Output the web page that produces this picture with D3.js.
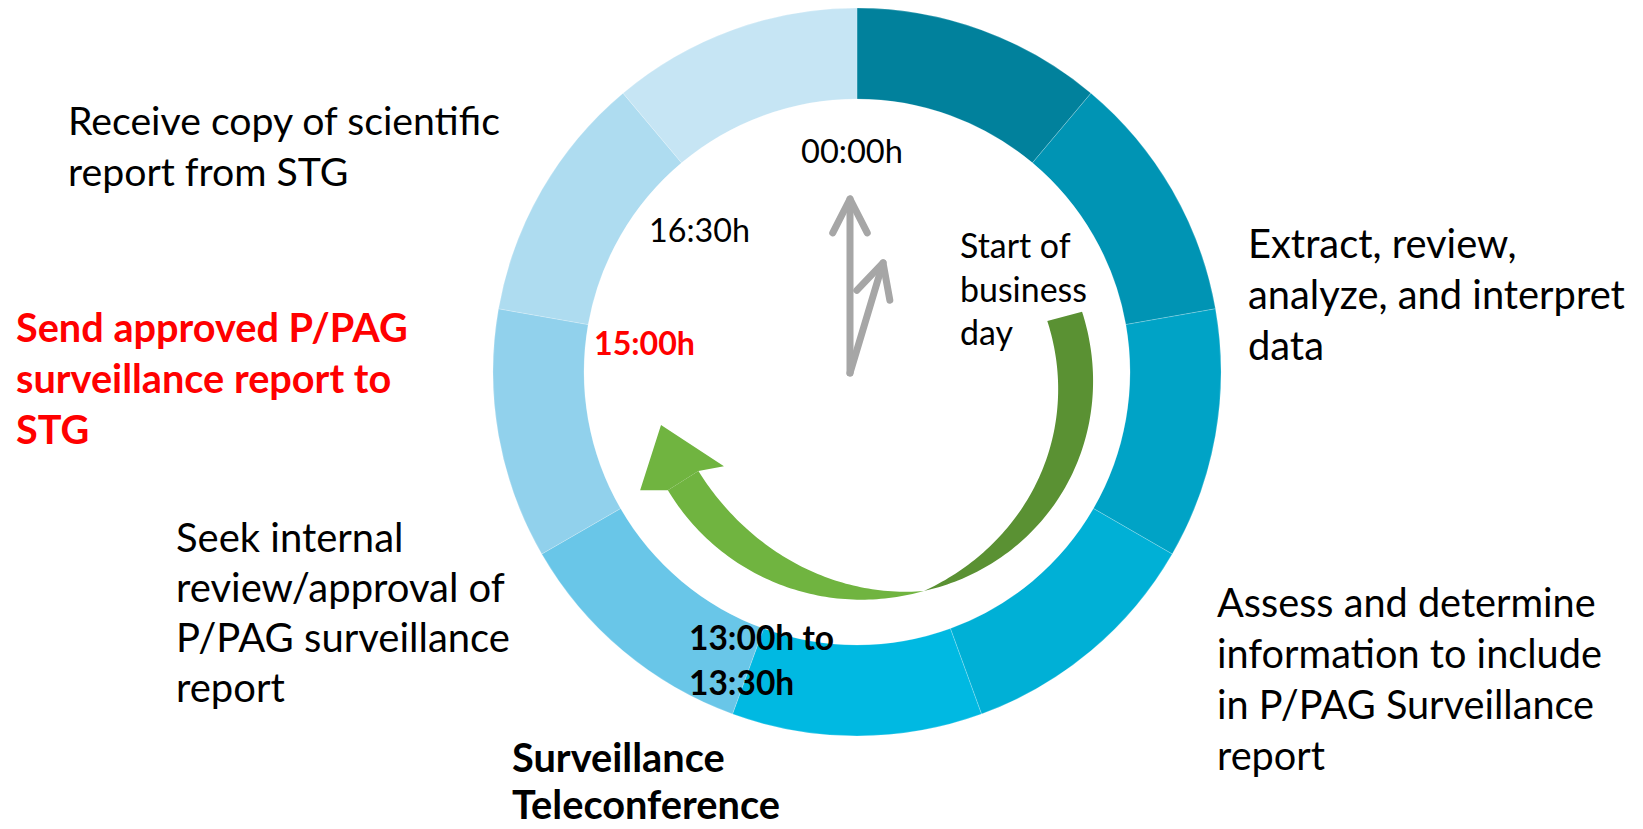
<!DOCTYPE html>
<html>
<head>
<meta charset="utf-8">
<script src="https://cdn.jsdelivr.net/npm/d3@7"></script>
<style>
  html, body { margin: 0; padding: 0; background: #fff; }
  svg { display: block; font-family: Lato, "Open Sans", sans-serif; }
</style>
</head>
<body>
<div id="chart"></div>
<script>
// ring segments, clockwise from 00:00h
const segmentValues = [1, 1, 1, 1, 1, 1, 1, 1, 1];
const segmentColors = ["#01819C", "#0094B4", "#00A3C6", "#00B0D6", "#00B9E2",
                       "#69C6E8", "#91D1EC", "#AEDCF0", "#C6E5F4"];

// step descriptions around the ring
const stepLines = [
    ["Receive copy of scientific", "report from STG"],
    ["Extract, review,", "analyze, and interpret", "data"],
    ["Assess and determine", "information to include", "in P/PAG Surveillance", "report"],
    ["Seek internal", "review/approval of", "P/PAG surveillance", "report"],
    ["Surveillance", "Teleconference"],
    ["Send approved P/PAG", "surveillance report to", "STG"]
];
// time marks inside the ring
const timeLines = [
    ["00:00h"],
    ["16:30h"],
    ["Start of", "business", "day"],
    ["15:00h"],
    ["13:00h to", "13:30h"]
];
// clock hands: angle (deg from 12 o'clock), length
const handAngles = [0, 16.7];
const handLengths = [174, 115];

const W = 1643, H = 829;
const cx = 857, cy = 372;
const outerR = 364, innerR = 273;

const svg = d3.select("#chart").append("svg")
    .attr("width", W)
    .attr("height", H);

// ring
const pie = d3.pie().sort(null).value(d => d);
const arc = d3.arc().innerRadius(innerR).outerRadius(outerR);

svg.append("g")
    .attr("transform", `translate(${cx},${cy})`)
    .selectAll("path")
    .data(pie(segmentValues))
    .join("path")
    .attr("d", arc)
    .attr("fill", (d, i) => segmentColors[i])
    .attr("stroke", "#fff")
    .attr("stroke-opacity", 0.35)
    .attr("stroke-width", 0.6);

// polar helper, angle in degrees clockwise from top
const rad = d3.scaleLinear().domain([0, 360]).range([0, 2 * Math.PI]);
function pt(a, r, ox = cx, oy = cy) {
    return [ox + r * Math.sin(rad(a)), oy - r * Math.cos(rad(a))];
}

// green curved arrow
const line = d3.line();
function band(a0, a1, rOut, rIn) {
    const angles = d3.range(a0, a1 + 0.01, 1);
    const outer = angles.map(a => pt(a, rOut(a)));
    const inner = angles.slice().reverse().map(a => pt(a, rIn(a)));
    return line(outer.concat(inner)) + "Z";
}

// dark back part: 75deg -> 163deg, tapering to nothing
const darkT = d3.scaleLinear().domain([75, 163]).range([0, 1]);
const bump = t => Math.sin(Math.PI * t);
svg.append("path")
    .attr("d", band(75, 163,
        a => d3.interpolate(233, 229)(darkT(a)) + 7 * bump(darkT(a)),
        a => d3.interpolate(197, 229)(d3.easeQuadIn(darkT(a))) + 5 * bump(darkT(a))))
    .attr("fill", "#5A9133");

// light front part: 163deg -> 238deg, widening to the head
const lightT = d3.scaleLinear().domain([163, 238]).range([0, 1]);
svg.append("path")
    .attr("d", band(163, 238,
        a => d3.interpolate(229, 223)(lightT(a)),
        a => d3.interpolate(229, 187)(d3.easeSinOut(lightT(a)))))
    .attr("fill", "#70B440");

// arrow head
const head = [pt(238, 223), pt(241.4, 247), pt(254.9, 203), pt(234.7, 163), pt(238, 187)];
svg.append("path")
    .attr("d", line(head) + "Z")
    .attr("fill", "#70B440");

// clock hands
const baseX = 850, baseY = 373;
const hands = svg.append("g")
    .attr("fill", "none")
    .attr("stroke", "#A6A6A6")
    .attr("stroke-width", 7)
    .attr("stroke-linecap", "round")
    .attr("stroke-linejoin", "round");

handAngles.forEach((a, i) => {
    const tip = pt(a, handLengths[i], baseX, baseY);
    const w1 = pt(a + 180 - 27, 38, tip[0], tip[1]);
    const w2 = pt(a + 180 + 27, 38, tip[0], tip[1]);
    hands.append("path").attr("d", line([[baseX, baseY], tip]));
    hands.append("path").attr("d", line([w1, tip, w2]));
});

// text blocks: position, line height, target width of the reference line
const stepLayout = [
    { x: 68,   y: 135, lh: 51, w: 432, ref: 0, weight: 400, color: "#000" },
    { x: 1248, y: 258, lh: 51, w: 377, ref: 1, weight: 400, color: "#000" },
    { x: 1217, y: 617, lh: 51, w: 385, ref: 1, weight: 400, color: "#000" },
    { x: 176,  y: 552, lh: 50, w: 329, ref: 1, weight: 400, color: "#000" },
    { x: 512,  y: 772, lh: 47, w: 268, ref: 1, weight: 700, color: "#000" },
    { x: 16,   y: 342, lh: 51, w: 392, ref: 0, weight: 700, color: "#FF0000" }
];
const timeLayout = [
    { x: 801, y: 163, lh: 44, w: 102, ref: 0, weight: 400, color: "#000" },
    { x: 649, y: 242, lh: 44, w: 101, ref: 0, weight: 400, color: "#000" },
    { x: 960, y: 258, lh: 43.5, w: 127, ref: 1, weight: 400, color: "#000" },
    { x: 594, y: 355, lh: 44, w: 101, ref: 0, weight: 700, color: "#FF0000" },
    { x: 689, y: 650, lh: 45, w: 145, ref: 0, weight: 700, color: "#000" }
];

function drawBlock(lines, L) {
    const t = svg.append("text")
        .attr("x", L.x)
        .attr("y", L.y)
        .attr("fill", L.color)
        .attr("font-weight", L.weight)
        .attr("font-size", 36);
    t.selectAll("tspan")
        .data(lines)
        .join("tspan")
        .attr("x", L.x)
        .attr("dy", (d, i) => i === 0 ? 0 : L.lh)
        .text(d => d);
    // fit font size to the reference width
    const measured = t.selectAll("tspan").nodes()[L.ref].getComputedTextLength();
    if (measured > 0) t.attr("font-size", 36 * L.w / measured);
}

stepLines.forEach((lines, i) => drawBlock(lines, stepLayout[i]));
timeLines.forEach((lines, i) => drawBlock(lines, timeLayout[i]));
</script>
</body>
</html>
